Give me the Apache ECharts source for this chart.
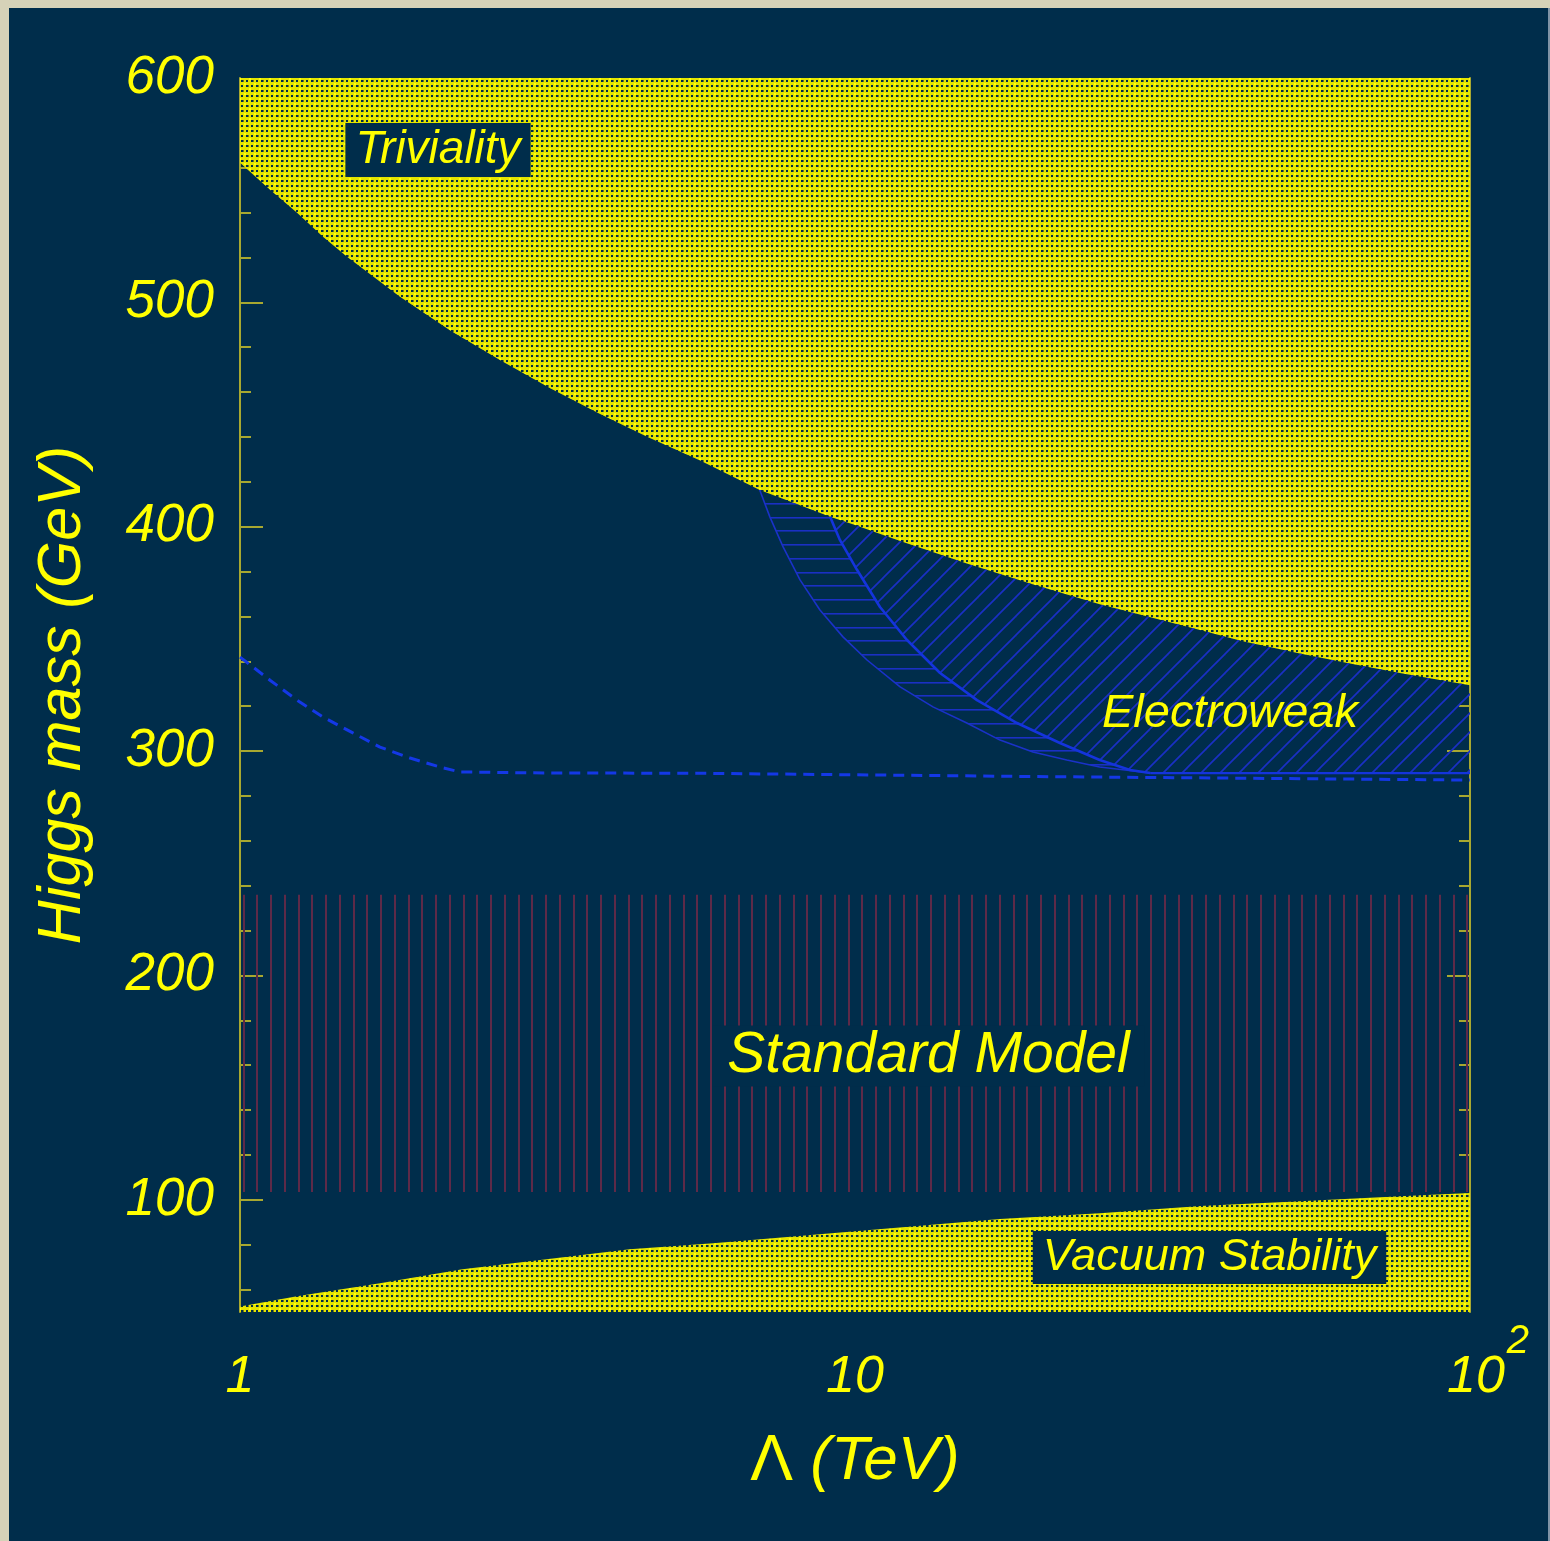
<!DOCTYPE html>
<html><head><meta charset="utf-8">
<script src="https://cdn.jsdelivr.net/npm/echarts@6/dist/echarts.min.js"></script>
<style>
html,body{margin:0;padding:0;background:#d6d2b8;width:1550px;height:1541px;overflow:hidden}
#c{position:absolute;left:9px;top:8px;width:1539px;height:1533px}
#edge{position:absolute;left:1548px;top:8px;width:2px;height:1533px;background:#7f93a6}
</style></head><body><div id="c"></div><div id="edge"></div>
<script>
// ---- data (Lambda in TeV, Higgs mass in GeV) ----
const xTicks = [1, 10, 100];
const yLabelValues = [100, 200, 300, 400, 500, 600];
const yMajorTicks = [100, 200, 300, 400, 500];
const yMinorTicks = [60, 80, 120, 140, 160, 180, 220, 240, 260, 280, 320, 340, 360, 380, 420, 440, 460, 480, 520, 540, 560, 580];

const trivL = [1, 1.119, 1.238, 1.364, 1.493, 1.82, 2.2, 2.65, 3.2, 3.85, 4.6, 5.6, 7.0, 8.0, 9.11, 10, 11.84, 15.2, 19.5, 25, 36.4, 42.7, 52.9, 63.8, 76.9, 100];
const trivM = [562.2, 550.2, 539.9, 529.2, 520.3, 502.5, 487.4, 474.2, 461.6, 450.2, 440.0, 429.5, 416.4, 410.4, 404.5, 400.8, 393.6, 383.6, 374.3, 365.4, 354, 349, 343.5, 339, 334.8, 329.3];

const ewOuterL = [7.0, 7.27, 7.64, 8.14, 8.77, 9.56, 10.46, 11.84, 13.39, 15.2, 17.21, 19.47, 22.1, 25.0, 30.2];
const ewOuterM = [416.4, 404.4, 391.0, 376.3, 362.9, 350.9, 340.6, 328.6, 319.7, 312.5, 304.9, 299.6, 296.0, 292.9, 290.2];

const ewInnerL = [9.11, 9.45, 10.08, 10.98, 12.15, 13.75, 15.79, 18.34, 21.54, 25, 28.0, 30.2];
const ewInnerM = [404.5, 394.1, 380.7, 364.2, 349.5, 334.8, 322.7, 312.5, 303.6, 296.0, 291.6, 290.2];

const ewFloorL = [30.2, 100];
const ewFloorM = [290.2, 290.2];

const dashL = [1, 1.119, 1.238, 1.364, 1.526, 1.689, 1.89, 2.14, 2.28, 2.96, 5.6, 20.7, 100];
const dashM = [341.9, 331.6, 322.7, 315.2, 308.1, 301.8, 296.9, 292.5, 290.7, 290.3, 290.1, 288.6, 287.1];

const vacL = [1, 1.238, 1.689, 2.30, 3.15, 4.3, 5.88, 10, 17.2, 25, 36.4, 52.9, 76.9, 100];
const vacM = [52.5, 57.0, 62.8, 69.0, 73.5, 78.0, 80.6, 86.0, 91.4, 94.0, 97.2, 99.4, 101.6, 103.0];

const smBandL = [1, 100];
const smBandM = [103.5, 236];

const xRange = [1, 100];
const yRange = [50, 600];

// ---- styling helpers ----
const NAVY = '#002d4b';
const YEL = '#ffff00';
const AXIS = '#a8a830';
const FONT = '"Liberation Sans", Arial, Helvetica, sans-serif';

function tile(w, h, draw) {
  const c = document.createElement('canvas'); c.width = w; c.height = h;
  draw(c.getContext('2d')); return c;
}
const yellowPat = tile(10, 10, ctx => {
  ctx.fillStyle = '#e4e400'; ctx.fillRect(0, 0, 10, 10);
  ctx.fillStyle = '#ffff10';
  ctx.fillRect(0, 0, 2, 2); ctx.fillRect(5, 5, 2, 2);
  ctx.fillStyle = NAVY;
  [[2,2],[7,2],[2,7],[7,7]].forEach(([x,y]) => ctx.fillRect(x, y, 2, 2));
  ctx.fillStyle = '#6e7a20';
  ctx.fillRect(4, 2, 1, 2); ctx.fillRect(9, 7, 1, 2);
});
const hLinePat = tile(8, 55, ctx => {
  ctx.fillStyle = '#1a30c4';
  [0, 14, 27, 41].forEach(y => ctx.fillRect(0, y, 8, 1.6));
});
const D = 19;
const dLinePat = tile(D, D, ctx => {
  ctx.strokeStyle = '#1a30c4'; ctx.lineWidth = 1.7;
  [[-D, D, D, -D], [0, D, D, 0], [0, 2 * D, 2 * D, 0]].forEach(([a, b, c, d]) => {
    ctx.beginPath(); ctx.moveTo(a, b); ctx.lineTo(c, d); ctx.stroke();
  });
});
const vLinePat = tile(55, 8, ctx => {
  ctx.fillStyle = '#5e2a48';
  [0, 14, 27, 41].forEach(x => ctx.fillRect(x, 0, 2, 8));
});
const pat = img => ({ image: img, repeat: 'repeat' });

const zip = (a, b) => a.map((v, i) => [v, b[i]]);

// polygons built from the arrays
const trivPoly = zip(trivL, trivM).concat([[xRange[1], yRange[1]], [xRange[0], yRange[1]]]);
const vacPoly = zip(vacL, vacM).concat([[xRange[1], yRange[0]], [xRange[0], yRange[0]]]);
const smPoly = [[smBandL[0], smBandM[0]], [smBandL[1], smBandM[0]], [smBandL[1], smBandM[1]], [smBandL[0], smBandM[1]]];
const trivBetween = (lo, hi) => zip(trivL, trivM).filter(p => p[0] > lo && p[0] < hi);
const ewHPoly = zip(ewOuterL, ewOuterM)
  .concat(zip(ewInnerL, ewInnerM).reverse())
  .concat(trivBetween(ewOuterL[0], ewInnerL[0]).reverse());
const ewDPoly = zip(ewInnerL, ewInnerM)
  .concat(zip(ewFloorL, ewFloorM).slice(1))
  .concat(zip(trivL, trivM).filter(p => p[0] > ewInnerL[0]).reverse());

function polySeries(name, pts, fill, z) {
  return {
    type: 'custom', name, z, silent: true, animation: false,
    coordinateSystem: 'cartesian2d', xAxisIndex: 0, yAxisIndex: 0,
    data: pts,
    renderItem: (params, api) => {
      if (params.dataIndex !== 0) return null;
      return { type: 'polygon', shape: { points: pts.map(p => api.coord(p)) }, style: { fill } };
    }
  };
}
function lineSeries(name, L, M, color, width, type, z) {
  return {
    type: 'line', name, z, silent: true, animation: false, showSymbol: false,
    data: zip(L, M), lineStyle: { color, width, type }
  };
}

function yAxis(pos, major, showLabel) {
  return {
    type: 'value', position: pos, min: yRange[0], max: yRange[1],
    axisLine: { show: major, lineStyle: { color: AXIS, width: 2 } },
    axisTick: { show: true, inside: true, length: major ? 23 : 11, customValues: major ? yMajorTicks : yMinorTicks, lineStyle: { color: AXIS, width: 2 } },
    axisLabel: showLabel ? { show: true, customValues: yLabelValues, color: YEL, fontSize: 53, fontStyle: 'italic', fontFamily: FONT, margin: 26 } : { show: false },
    splitLine: { show: false },
    name: showLabel ? 'Higgs mass (GeV)' : '',
    nameLocation: 'middle', nameGap: 146,
    nameTextStyle: { color: YEL, fontSize: 61, fontStyle: 'italic', fontFamily: FONT }
  };
}

const chart = echarts.init(document.getElementById('c'), null, { renderer: 'canvas' });
chart.setOption({
  backgroundColor: NAVY,
  animation: false,
  grid: { left: 231, top: 70, width: 1230, height: 1234, containLabel: false },
  xAxis: {
    type: 'log', logBase: 10, min: xRange[0], max: xRange[1],
    axisLine: { show: false }, axisTick: { show: false }, splitLine: { show: false },
    axisLabel: {
      customValues: xTicks, margin: 10,
      formatter: v => v === 100 ? '{c|10}{s|2}' : '{b|' + v + '}',
      rich: {
        b: { color: YEL, fontSize: 52, fontStyle: 'italic', fontFamily: FONT, padding: [30, 0, 0, 0] },
        c: { color: YEL, fontSize: 52, fontStyle: 'italic', fontFamily: FONT, padding: [30, 0, 0, 36] },
        s: { color: YEL, fontSize: 40, fontStyle: 'italic', fontFamily: FONT, verticalAlign: 'top', padding: [0, 0, 0, 2] }
      }
    },
    name: '{l|Λ}{t| (TeV)}', nameLocation: 'middle', nameGap: 118,
    nameTextStyle: {
      rich: {
        l: { color: YEL, fontSize: 64, fontFamily: FONT },
        t: { color: YEL, fontSize: 62, fontStyle: 'italic', fontFamily: FONT }
      }
    }
  },
  yAxis: [yAxis('left', true, true), yAxis('left', false, false), yAxis('right', true, false), yAxis('right', false, false)],
  series: [
    polySeries('Triviality', trivPoly, pat(yellowPat), 2),
    polySeries('Vacuum Stability', vacPoly, pat(yellowPat), 2),
    polySeries('Standard Model', smPoly, pat(vLinePat), 2),
    polySeries('Electroweak H', ewHPoly, pat(hLinePat), 3),
    polySeries('Electroweak D', ewDPoly, pat(dLinePat), 3),
    lineSeries('EW outer', ewOuterL, ewOuterM, '#1a32c8', 1.6, 'solid', 4),
    lineSeries('EW inner', ewInnerL, ewInnerM, '#1434dc', 2.6, 'solid', 4),
    lineSeries('EW floor', ewFloorL, ewFloorM, '#1434dc', 2.4, 'solid', 4),
    lineSeries('Dashed', dashL, dashM, '#1438e6', 3, [11, 7], 4)
  ],
  graphic: [
    { type: 'text', x: 429, y: 142, z: 100, silent: true,
      style: { text: 'Triviality', font: 'italic 46px ' + FONT, fill: YEL, align: 'center', verticalAlign: 'middle', backgroundColor: NAVY, padding: [4, 10] } },
    { type: 'text', x: 1221, y: 706, z: 100, silent: true,
      style: { text: 'Electroweak', font: 'italic 47px ' + FONT, fill: YEL, align: 'center', verticalAlign: 'middle' } },
    { type: 'text', x: 919.5, y: 1048, z: 100, silent: true,
      style: { text: 'Standard Model', font: 'italic 57px ' + FONT, fill: YEL, align: 'center', verticalAlign: 'middle', backgroundColor: NAVY, padding: [0, 15, 4, 15] } },
    { type: 'text', x: 1200.5, y: 1249.5, z: 100, silent: true,
      style: { text: 'Vacuum Stability', font: 'italic 45px ' + FONT, fill: YEL, align: 'center', verticalAlign: 'middle', backgroundColor: NAVY, padding: [4, 10] } }
  ]
});
</script></body></html>
